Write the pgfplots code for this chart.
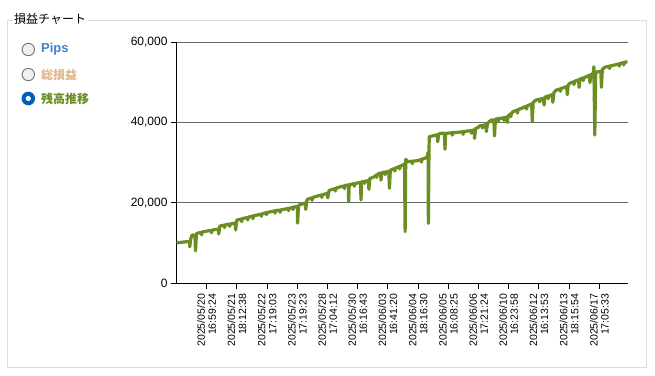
\documentclass[border=0pt]{standalone}
\usepackage{pgfplots}
\pgfplotsset{compat=1.18}
\usepackage{fontspec}
\setmainfont{Liberation Sans}
\newfontfamily\cjk{Noto Sans CJK JP}
\definecolor{lineg}{RGB}{107,142,35}
\definecolor{pipsblue}{RGB}{66,130,200}
\definecolor{tanc}{RGB}{222,186,140}
\definecolor{radioblue}{RGB}{0,95,184}
\definecolor{framec}{RGB}{220,220,220}
\definecolor{gridc}{RGB}{105,105,105}
\pgfplotstableread{
x y
0.00 10000
0.35 10300
0.43 10300
0.44 9000
0.47 11000
0.52 12000
0.61 11800
0.63 8000
0.66 12200
0.69 12400
0.82 12600
0.83 12000
0.85 12700
1.02 12950
1.15 13100
1.16 12500
1.18 13200
1.35 13370
1.39 13400
1.40 12200
1.43 14000
1.44 14190
1.58 14400
1.59 13800
1.61 14500
1.75 14650
1.76 14100
1.78 14700
1.90 14860
1.94 14900
1.96 13200
1.99 15500
2.01 15690
2.15 15950
2.16 15300
2.18 16050
2.35 16300
2.36 15700
2.38 16400
2.52 16650
2.53 16000
2.55 16750
2.68 16930
2.80 17150
2.81 16600
2.83 17250
2.97 17500
2.98 17000
3.00 17550
3.12 17750
3.25 17950
3.26 17400
3.28 18000
3.42 18150
3.43 17600
3.45 18200
3.56 18350
3.70 18550
3.71 18000
3.73 18600
3.85 18800
3.86 18300
3.88 18900
3.95 19000
4.00 19000
4.01 14900
4.04 19300
4.06 19420
4.22 19840
4.26 19850
4.28 18300
4.31 20500
4.34 20840
4.48 21200
4.49 20600
4.51 21300
4.67 21660
4.80 21900
4.81 21300
4.83 22000
4.99 22300
5.01 21200
5.05 23000
5.11 23200
5.25 23500
5.26 22900
5.28 23600
5.44 23980
5.55 24150
5.56 23500
5.58 24250
5.67 24400
5.69 24400
5.70 20200
5.72 24500
5.88 24700
5.89 24100
5.91 24800
6.05 24970
6.09 25000
6.11 20660
6.13 25200
6.22 25300
6.23 24800
6.25 25350
6.33 25470
6.36 25500
6.37 23300
6.40 26000
6.55 26460
6.62 26900
6.63 26300
6.65 27000
6.71 27310
6.76 27300
6.77 25600
6.80 27500
6.90 27600
6.91 27000
6.93 27650
6.99 27710
7.03 27700
7.05 23580
7.08 28000
7.10 28130
7.22 28500
7.23 27900
7.25 28600
7.38 29000
7.39 28400
7.41 29100
7.49 29380
7.55 29600
7.57 12770
7.59 30800
7.66 30200
7.80 30300
7.81 29700
7.83 30350
7.99 30450
8.10 30750
8.11 30100
8.13 30850
8.21 31050
8.30 31300
8.33 32500
8.34 14860
8.36 33000
8.37 36420
8.60 36850
8.63 36900
8.65 35200
8.68 37100
8.76 37270
8.87 37300
8.89 33290
8.91 37300
8.98 37300
9.12 37400
9.13 36800
9.15 37450
9.32 37520
9.48 37650
9.49 37000
9.51 37700
9.65 37840
9.75 37950
9.76 37300
9.78 38000
9.85 38090
9.87 36000
9.90 38500
9.98 38670
10.03 39090
10.12 39200
10.13 38600
10.15 39250
10.20 39340
10.24 39400
10.26 37700
10.30 39800
10.42 40580
10.51 40600
10.53 36600
10.56 40800
10.65 40900
10.66 40300
10.68 40950
10.75 41000
10.83 41150
10.84 40500
10.86 41200
10.92 41300
10.95 40000
10.98 41600
11.06 42100
11.07 41400
11.09 42200
11.14 42650
11.28 43050
11.29 42300
11.31 43150
11.42 43500
11.58 44000
11.59 43300
11.61 44100
11.75 44560
11.76 44600
11.78 40160
11.81 45000
11.91 45560
12.02 45750
12.03 45100
12.05 45800
12.14 45980
12.15 46000
12.17 44300
12.20 46300
12.30 46550
12.31 45900
12.33 46600
12.41 46800
12.44 46900
12.46 45000
12.50 47500
12.58 48050
12.70 48300
12.71 47700
12.73 48400
12.91 48880
12.92 48900
12.94 46900
12.97 49300
13.02 49720
13.15 50100
13.16 49400
13.18 50200
13.30 50540
13.31 50600
13.33 48700
13.36 50800
13.46 51050
13.47 50400
13.49 51100
13.57 51360
13.67 51700
13.69 49900
13.72 51900
13.80 52210
13.82 53850
13.85 36850
13.88 52400
13.96 52600
14.05 52700
14.07 48720
14.10 53200
14.18 53700
14.33 54000
14.34 53400
14.36 54050
14.51 54270
14.65 54550
14.66 54000
14.68 54650
14.80 54850
14.81 54300
14.83 54950
14.93 55100
}\balance
\begin{document}
\begin{tikzpicture}[x=1pt,y=1pt]
\path[use as bounding box, fill=white] (0,0) rectangle (655,-375);
\draw[framec, line width=1pt] (7,-20) rectangle (646,-367);
\node[fill=white, inner sep=2pt, anchor=west, font=\cjk\fontsize{12}{14}\selectfont] at (12,-19) {損益チャート};
% radios
\draw[fill=black!6, draw=black!55, line width=0.9pt] (28.3,-49.5) circle (6.2);
\draw[fill=black!6, draw=black!55, line width=0.9pt] (28.3,-74.5) circle (6.2);
\fill[radioblue] (28.3,-98.5) circle (6.8);
\fill[white] (28.3,-98.5) circle (2.6);
\node[anchor=west, inner sep=0pt, font=\bfseries\fontsize{13}{15}\selectfont, text=pipsblue] at (41,-49.5) {Pips};
\node[anchor=west, inner sep=0pt, font=\cjk\bfseries\fontsize{12}{14}\selectfont, text=tanc] at (41,-74.5) {総損益};
\node[anchor=west, inner sep=0pt, font=\cjk\bfseries\fontsize{12}{14}\selectfont, text=lineg] at (41,-98.5) {残高推移};
\begin{axis}[
  at={(176.5pt,-283pt)}, anchor=south west,
  scale only axis, width=451.5pt, height=241pt,
  xmin=0, xmax=14.95, ymin=0, ymax=60000,
  axis lines=left,
  axis line style={-, black, line width=1pt},
  clip=false,
  ymajorgrids, major grid style={gridc, line width=0.8pt},
  ytick={0,20000,40000,60000},
  scaled y ticks=false,
  /pgf/number format/fixed,
  /pgf/number format/1000 sep={,},
  /pgf/number format/assume math mode=true,
  yticklabel style={font=\fontsize{12}{14}\selectfont, text=black},
  tick align=outside,
  major tick length=5.5pt,
  tick style={black, line width=0.9pt},
  xtick={1,2,3,4,5,6,7,8,9,10,11,12,13,14},
  xticklabels={{2025/05/20\\16:59:24},{2025/05/21\\18:12:38},{2025/05/22\\17:19:03},{2025/05/23\\17:19:23},{2025/05/28\\17:04:12},{2025/05/30\\16:16:43},{2025/06/03\\16:41:20},{2025/06/04\\18:16:30},{2025/06/05\\16:08:25},{2025/06/06\\17:21:24},{2025/06/10\\16:23:58},{2025/06/12\\16:13:53},{2025/06/13\\18:15:54},{2025/06/17\\17:05:33}},
  xticklabel style={rotate=90, anchor=east, align=right, font=\fontsize{10.5}{11}\selectfont, xshift=-2pt},
]
\addplot[lineg, line width=3.2pt, line join=round, no marks] table {\balance};
\end{axis}
\end{tikzpicture}
\end{document}
